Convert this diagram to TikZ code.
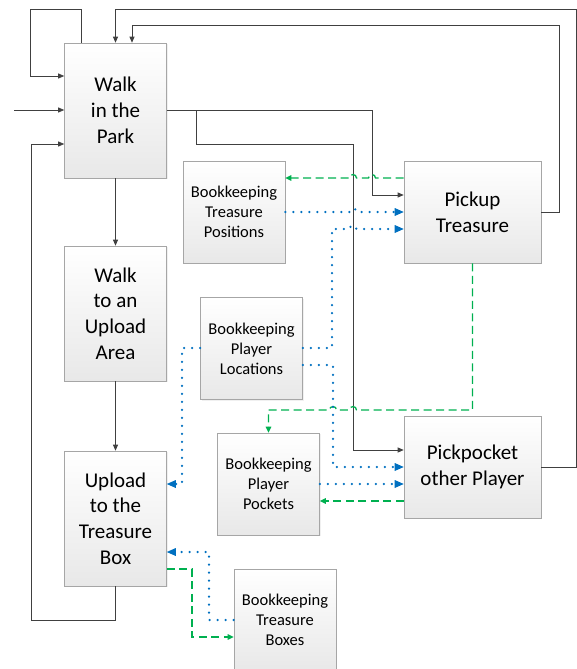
\documentclass[tikz,border=0pt]{standalone}
\usepackage{fontspec}
\setmainfont{Carlito}
\usetikzlibrary{arrows.meta,shadows}
\definecolor{dk}{RGB}{64,64,64}
\definecolor{gn}{RGB}{0,176,80}
\definecolor{bl}{RGB}{0,112,192}
\definecolor{bd}{RGB}{166,166,166}
\tikzset{
  boxbase/.style={draw=bd, line width=0.6pt, top color=white, bottom color=black!9,
    inner sep=0pt, align=center, text=black,
    drop shadow={opacity=0.12, shadow xshift=1.2pt, shadow yshift=-1.2pt}},
  mainbox/.style={boxbase, minimum width=102pt, minimum height=135pt, font=\fontsize{21}{25.8}\selectfont},
  actbox/.style={boxbase, minimum width=137pt, minimum height=102pt, font=\fontsize{21}{25.8}\selectfont},
  bookbox/.style={boxbase, minimum width=102pt, minimum height=102pt, font=\fontsize{16.5}{20}\selectfont},
  darr/.style={draw=dk, line width=0.8pt, -{Triangle[length=6pt,width=5pt]}},
  garr/.style={draw=gn, color=gn, line width=1.3pt, dash pattern=on 8pt off 4.5pt,
    -{Triangle[length=6pt,width=5.5pt,fill=gn]}},
  barr/.style={draw=bl, line width=2.5pt, line cap=round, dash pattern=on 0pt off 8pt,
    -{Triangle[length=9pt,width=8pt,line cap=butt,line width=0pt]}},
}
\begin{document}
\begin{tikzpicture}[x=1pt,y=-1pt]
\useasboundingbox (0,0) rectangle (577,669);
% boxes
\node[mainbox] (park) at (115.5,110.5) {Walk\\in the\\Park};
\node[mainbox] (walkup) at (115.5,313.5) {Walk\\to an\\Upload\\Area};
\node[mainbox] (upload) at (115.5,518.5) {Upload\\to the\\Treasure\\Box};
\node[bookbox] (tpos) at (234,212) {Bookkeeping\\Treasure\\Positions};
\node[bookbox] (ploc) at (251.5,348.5) {Bookkeeping\\Player\\Locations};
\node[bookbox] (pockets) at (268.5,484) {Bookkeeping\\Player\\Pockets};
\node[bookbox] (tboxes) at (285,620) {Bookkeeping\\Treasure\\Boxes};
\node[actbox] (pickup) at (472.5,212) {Pickup\\Treasure};
\node[actbox] (pocket) at (472.5,467) {Pickpocket\\other Player};
% dark connectors
\coordinate (inL) at (14,110);
\coordinate (br) at (196,110);
\draw[darr] (park.north -| 81,0) |- (30,9) |- (park.west |- 0,76);
\draw[darr] (inL) -- (park.west |- inL);
\draw[darr] (upload.south) |- (31,620) |- (park.west |- 0,144);
\draw[darr] (pickup.east |- 0,212) -| (559,25) -| (park.north -| 132,0);
\draw[darr] (pocket.east |- 0,467) -| (576,9) -| (park.north);
\draw[darr] (park.east) -| (372,195) -- (pickup.west |- 0,195);
\draw[darr] (br) |- (353,144) |- (pocket.west |- 0,450);
\draw[darr] (park.south) -- (walkup.north);
\draw[darr] (walkup.south) -- (upload.north);
% green dashed
\draw[garr] (pickup.west |- 0,178) -- (375.5,178) arc[start angle=0,end angle=180,radius=3.5pt]
  -- (356.5,178) arc[start angle=0,end angle=180,radius=3.5pt] -- (tpos.east |- 0,178);
\draw[garr] (pickup.south) -- (pickup.south |- 0,410) -- (356.5,410) arc[start angle=0,end angle=180,radius=3.5pt]
  -- (336.5,410) arc[start angle=0,end angle=180,radius=3.5pt] -- (pockets.north |- 0,410) -- (pockets.north);
\draw[garr] (pocket.west |- 0,501) -- (pockets.east |- 0,501);
\draw[garr] (upload.east |- 0,569) -| (192,637) -- (tboxes.west |- 0,637);
% blue dotted
\draw[barr] (tpos.east |- 0,212) -- (349.5,212) arc[start angle=180,end angle=0,radius=3.5pt] -- (pickup.west |- 0,212);
\draw[barr] (ploc.east |- 0,348) -| (332,229) -- (349.5,229) arc[start angle=180,end angle=0,radius=3.5pt] -- (pickup.west |- 0,229);
\draw[barr] (ploc.east |- 0,365) -| (333,467) -- (pocket.west |- 0,467);
\draw[barr] (pockets.east |- 0,484) -- (pocket.west |- 0,484);
\draw[barr] (ploc.west |- 0,348) -| (182,484) -- (upload.east |- 0,484);
\draw[barr] (tboxes.west |- 0,620) -| (209,552) -- (upload.east |- 0,552);
\end{tikzpicture}
\end{document}
